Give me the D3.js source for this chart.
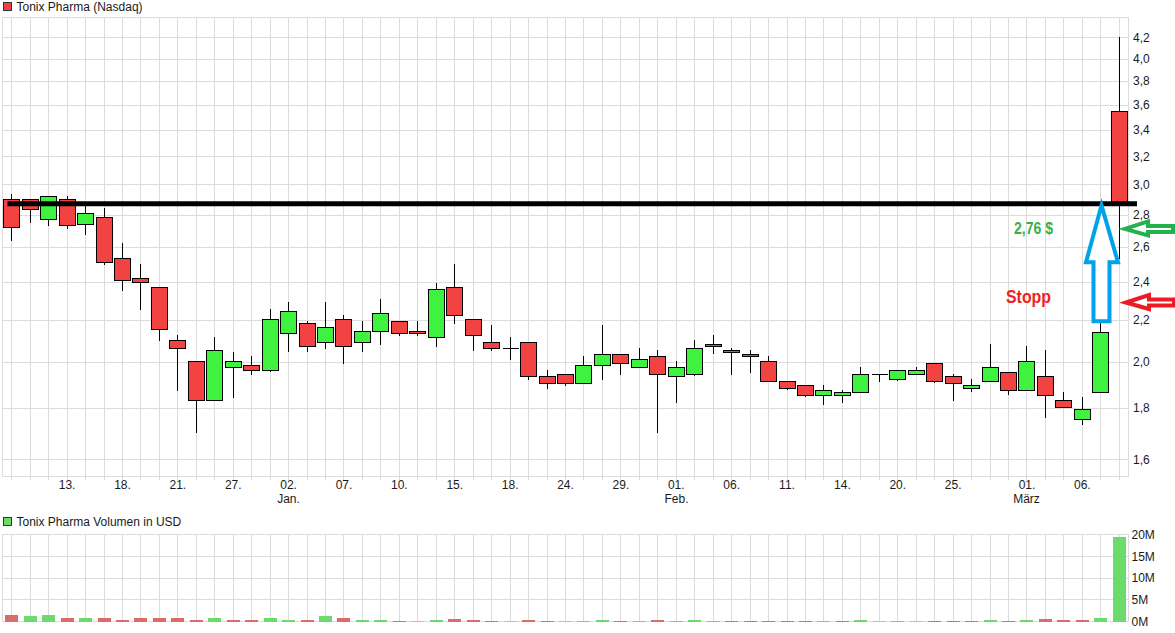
<!DOCTYPE html>
<html><head><meta charset="utf-8">
<script src="https://cdn.jsdelivr.net/npm/d3@7"></script>
<style>
body{margin:0;background:#fff}
svg{display:block}
text{font-family:"Liberation Sans",Arial,sans-serif}
</style>
</head><body><div id="chart"></div>
<script>
// ---------- data ----------
const dates = [
"2018-12-10","2018-12-11","2018-12-12","2018-12-13","2018-12-14","2018-12-17","2018-12-18","2018-12-19","2018-12-20","2018-12-21","2018-12-24","2018-12-26","2018-12-27","2018-12-28","2018-12-31",
"2019-01-02","2019-01-03","2019-01-04","2019-01-07","2019-01-08","2019-01-09","2019-01-10","2019-01-11","2019-01-14","2019-01-15","2019-01-16","2019-01-17","2019-01-18","2019-01-22","2019-01-23","2019-01-24","2019-01-25","2019-01-28","2019-01-29","2019-01-30","2019-01-31",
"2019-02-01","2019-02-04","2019-02-05","2019-02-06","2019-02-07","2019-02-08","2019-02-11","2019-02-12","2019-02-13","2019-02-14","2019-02-15","2019-02-19","2019-02-20","2019-02-21","2019-02-22","2019-02-25","2019-02-26","2019-02-27","2019-02-28",
"2019-03-01","2019-03-04","2019-03-05","2019-03-06","2019-03-07","2019-03-08"];

const open = [2.90,2.90,2.77,2.90,2.739,2.783,2.534,2.421,2.371,2.100,
2.002,1.831,1.975,1.984,1.961,2.134,2.184,2.091,2.204,2.091,
2.144,2.194,2.144,2.115,2.371,2.204,2.091,2.063,2.091,1.935,
1.943,1.904,1.984,2.034,1.975,2.025,1.935,1.943,2.081,2.053,
2.034,2.002,1.913,1.895,1.852,1.852,1.865,1.943,1.921,1.943,
1.993,1.935,1.882,1.913,1.952,1.874,1.935,1.831,1.753,1.865,
3.55];
const high = [2.935,2.90,2.922,2.922,2.856,2.842,2.624,2.501,2.371,2.126,
2.002,2.116,2.045,2.027,2.256,2.293,2.194,2.293,2.224,2.195,
2.309,2.194,2.195,2.393,2.501,2.204,2.174,2.116,2.091,1.961,
1.943,2.028,2.175,2.034,2.063,2.053,2.002,2.102,2.126,2.063,
2.053,2.025,1.913,1.895,1.895,1.874,1.975,1.943,1.961,1.975,
1.993,1.943,1.921,2.081,1.952,2.072,2.053,1.865,1.844,2.184,
4.20];
const low = [2.636,2.749,2.73,2.709,2.673,2.497,2.353,2.253,2.098,1.872,
1.701,1.831,1.842,1.942,1.952,2.046,2.046,2.061,1.991,2.046,
2.079,2.123,2.123,2.070,2.182,2.051,2.051,2.009,1.920,1.880,
1.893,1.904,1.920,1.942,1.975,1.701,1.821,1.935,2.034,1.942,
1.950,1.913,1.874,1.844,1.813,1.821,1.865,1.911,1.915,1.943,
1.905,1.830,1.865,1.913,1.852,1.874,1.760,1.802,1.732,1.865,
2.53];
const close = [2.72,2.834,2.922,2.733,2.808,2.511,2.409,2.398,2.154,2.063,
1.831,2.053,2.002,1.961,2.204,2.245,2.072,2.164,2.072,2.144,
2.234,2.134,2.134,2.360,2.224,2.125,2.063,2.063,1.935,1.904,
1.904,1.984,2.034,1.993,2.011,1.943,1.975,2.063,2.072,2.044,
2.025,1.913,1.882,1.852,1.874,1.865,1.943,1.943,1.961,1.961,
1.913,1.904,1.895,1.975,1.874,2.002,1.852,1.802,1.794,2.142,
2.87];
// volume in millions USD
const volume = [1.45,1.15,1.6,0.9,0.9,0.7,0.45,0.7,0.7,0.7,
0.45,0.7,0.45,0.45,0.7,0.45,0.45,1.15,0.7,0.45,
0.45,0.2,0.08,0.4,0.6,0.4,0.15,0.07,0.4,0.15,
0.07,0.15,0.4,0.15,0.15,0.4,0.15,0.4,0.15,0.15,
0.15,0.15,0.15,0.15,0.15,0.15,0.4,0.07,0.15,0.07,
0.15,0.15,0.15,0.4,0.15,0.4,0.55,0.4,0.4,0.8,
19.35];

const priceTicks = [1.6,1.8,2.0,2.2,2.4,2.6,2.8,3.0,3.2,3.4,3.6,3.8,4.0,4.2];
const volumeTicks = [0,5,10,15,20];
const xTickDates = ["2018-12-13","2018-12-18","2018-12-21","2018-12-27","2019-01-02","2019-01-07","2019-01-10","2019-01-15","2019-01-18","2019-01-24","2019-01-29","2019-02-01","2019-02-06","2019-02-11","2019-02-14","2019-02-20","2019-02-25","2019-03-01","2019-03-06"];
const monthTickDates = ["2019-01-02","2019-02-01","2019-03-01"];
const monthNames = ["Jan.","Feb.","März"];

const priceTitle = "Tonix Pharma (Nasdaq)";
const volumeTitle = "Tonix Pharma Volumen in USD";
const resistanceLevel = 2.87;
const targetLevel = 2.71, targetText = "2,76 $";
const stopLevel = 2.29, stopText = "Stopp";
const arrowFrom = 2.187;

// ---------- layout ----------
const W = 1175, H = 633;
const P = {left: 2.5, right: 1128.5, top: 17.5, bottom: 476.5};
const V = {top: 534.5, bottom: 621.5};

const COL = {
  grid: "#dcdcdc", up: "#3ff23f", down: "#f24242",
  vUp: "#6bdb6b", vDown: "#de6b6b", vFlat: "#bdbdbd", text: "#1a1a1a"
};

const svg = d3.select("#chart").append("svg").attr("width", W).attr("height", H);

const x = d3.scaleBand().domain(dates).range([P.left, P.right]);
const cx = d => Math.floor(x(d) + x.bandwidth() / 2) + 0.5;
const y = d3.scaleLog().domain([1.54, 4.397]).range([476, 17.3]);
const yv = d3.scaleLinear().domain([0, 20]).range([V.bottom, V.top]);

const de = d3.formatLocale({decimal: ",", thousands: ".", grouping: [3], currency: ["", " $"]});
const fmt1 = de.format(".1f");

// ---------- price panel grid ----------
const g = svg.append("g").attr("shape-rendering", "crispEdges");
g.selectAll("line.vg").data(dates).join("line")
  .attr("x1", cx).attr("x2", cx).attr("y1", P.top).attr("y2", P.bottom + 3)
  .attr("stroke", COL.grid);
g.selectAll("line.hg").data(priceTicks).join("line")
  .attr("x1", P.left).attr("x2", P.right)
  .attr("y1", d => Math.round(y(d)) + 0.5).attr("y2", d => Math.round(y(d)) + 0.5)
  .attr("stroke", COL.grid);
g.append("rect").attr("x", P.left).attr("y", P.top)
  .attr("width", P.right - P.left).attr("height", P.bottom - P.top)
  .attr("fill", "none").attr("stroke", COL.grid);

// ---------- volume panel grid ----------
g.selectAll("line.vvg").data(dates).join("line")
  .attr("x1", cx).attr("x2", cx).attr("y1", V.top).attr("y2", V.bottom)
  .attr("stroke", COL.grid);
g.selectAll("line.vhg").data(volumeTicks).join("line")
  .attr("x1", P.left).attr("x2", P.right)
  .attr("y1", d => Math.round(yv(d) - 0.5) + 0.5).attr("y2", d => Math.round(yv(d) - 0.5) + 0.5)
  .attr("stroke", COL.grid);
g.append("rect").attr("x", P.left).attr("y", V.top)
  .attr("width", P.right - P.left).attr("height", V.bottom - V.top)
  .attr("fill", "none").attr("stroke", COL.grid);

// ---------- axes ----------
const yAxis = d3.axisRight(y).tickValues(priceTicks).tickFormat(fmt1).tickSize(0).tickPadding(4.5);
svg.append("g").attr("transform", `translate(${P.right},0)`).call(yAxis)
  .call(s => s.select(".domain").remove())
  .call(s => s.selectAll("text").attr("font-size", 12).attr("fill", COL.text).attr("font-family", '"Liberation Sans",Arial,sans-serif'));

const vAxis = d3.axisRight(yv).tickValues(volumeTicks).tickFormat(d => d + "M").tickSize(0).tickPadding(3);
svg.append("g").attr("transform", `translate(${P.right},0)`).call(vAxis)
  .call(s => s.select(".domain").remove())
  .call(s => s.selectAll("text").attr("font-size", 12).attr("fill", COL.text).attr("font-family", '"Liberation Sans",Arial,sans-serif'));

const xAxis = d3.axisBottom(x).tickValues(xTickDates).tickFormat(d => d.slice(8) + ".").tickSize(0).tickPadding(4);
svg.append("g").attr("transform", `translate(0,${P.bottom})`).call(xAxis)
  .call(s => s.select(".domain").remove())
  .call(s => s.selectAll("text").attr("font-size", 12).attr("fill", COL.text).attr("font-family", '"Liberation Sans",Arial,sans-serif'));

svg.append("g").selectAll("text").data(monthTickDates).join("text")
  .attr("x", d => cx(d)).attr("y", 502.5).attr("text-anchor", "middle")
  .attr("font-size", 12).attr("fill", COL.text)
  .text((d, i) => monthNames[i]);

// ---------- legends ----------
svg.append("rect").attr("x", 3.5).attr("y", 2.5).attr("width", 8).attr("height", 8)
  .attr("fill", COL.down).attr("stroke", "#333").attr("shape-rendering", "crispEdges");
svg.append("text").attr("x", 16.5).attr("y", 11).attr("font-size", 12).attr("fill", COL.text).text(priceTitle);
svg.append("rect").attr("x", 3.5).attr("y", 517.5).attr("width", 8).attr("height", 8)
  .attr("fill", COL.vUp).attr("stroke", "#333").attr("shape-rendering", "crispEdges");
svg.append("text").attr("x", 16.5).attr("y", 526).attr("font-size", 12).attr("fill", COL.text).text(volumeTitle);

// ---------- volume bars ----------
svg.append("g").attr("shape-rendering", "crispEdges").selectAll("rect").data(dates).join("rect")
  .attr("x", d => cx(d) - 6.5).attr("width", 13)
  .attr("y", (d, i) => Math.round(yv(volume[i])))
  .attr("height", (d, i) => Math.max(0.6, Math.round(yv(0)) - Math.round(yv(volume[i]))))
  .attr("fill", (d, i) => {
    const prev = i === 0 ? open[0] : close[i - 1];
    return close[i] > prev ? COL.vUp : close[i] < prev ? COL.vDown : COL.vFlat;
  });

// ---------- candles ----------
const cg = svg.append("g").attr("shape-rendering", "crispEdges");
cg.selectAll("line.wick").data(dates).join("line")
  .attr("x1", cx).attr("x2", cx)
  .attr("y1", (d, i) => Math.round(y(high[i])))
  .attr("y2", (d, i) => Math.round(y(low[i])))
  .attr("stroke", "#000");
dates.forEach((d, i) => {
  const yo = Math.round(y(open[i])), yc = Math.round(y(close[i]));
  const c = cx(d);
  if (yo === yc) {
    cg.append("line").attr("x1", c - 8).attr("x2", c + 8)
      .attr("y1", yo + 0.5).attr("y2", yo + 0.5).attr("stroke", "#000");
  } else {
    cg.append("rect").attr("x", c - 8).attr("width", 16)
      .attr("y", Math.min(yo, yc) + 0.5).attr("height", Math.abs(yo - yc))
      .attr("fill", close[i] > open[i] ? COL.up : COL.down)
      .attr("stroke", "#000");
  }
});

// ---------- annotations ----------
const yr = y(resistanceLevel);
svg.append("line").attr("x1", 7.5).attr("x2", 1137).attr("y1", yr).attr("y2", yr)
  .attr("stroke", "#000").attr("stroke-width", 5);

// blue up-arrow
const tipY = y(resistanceLevel) + 1.5, baseY = y(arrowFrom) - 1.5;
const bx = 1101.5;
const upPts = [[bx, tipY], [bx + 16.5, tipY + 57], [bx + 8, tipY + 57], [bx + 8, baseY],
  [bx - 8, baseY], [bx - 8, tipY + 57], [bx - 15.5, tipY + 57]];
svg.append("polygon").attr("points", upPts.map(p => p.join(",")).join(" "))
  .attr("fill", "#fff").attr("stroke", "#00a2e8").attr("stroke-width", 4)
  .attr("stroke-linejoin", "miter");

// left arrows
function leftArrow(tx, ty, color) {
  const pts = [[0, 0], [23, -7.5], [23, -3], [48, -3], [48, 3], [23, 3], [23, 6.5]];
  svg.append("polygon").attr("points", pts.map(p => [tx + p[0], ty + p[1]].join(",")).join(" "))
    .attr("fill", "#fff").attr("stroke", color).attr("stroke-width", 4)
    .attr("stroke-linejoin", "miter");
}
leftArrow(1125, y(targetLevel), "#22b14c");
leftArrow(1126, y(stopLevel), "#ed1c24");

svg.append("text").attr("x", 1014).attr("y", y(targetLevel) + 5.5)
  .attr("font-size", 16).attr("font-weight", "bold").attr("fill", "#33b24a")
  .attr("textLength", 39).attr("lengthAdjust", "spacingAndGlyphs").text(targetText);
svg.append("text").attr("x", 1006).attr("y", y(stopLevel))
  .attr("font-size", 18).attr("font-weight", "bold").attr("fill", "#ee2222")
  .attr("textLength", 45).attr("lengthAdjust", "spacingAndGlyphs").text(stopText);
</script>
</body></html>
